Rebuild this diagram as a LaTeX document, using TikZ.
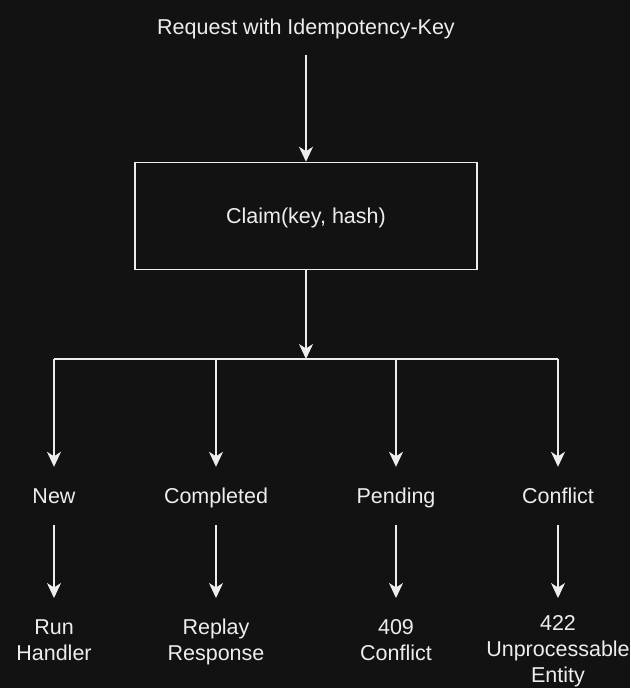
\documentclass[tikz,border=0pt]{standalone}
\usepackage{fontspec}
\setmainfont{Liberation Sans}
\usetikzlibrary{arrows.meta}
\definecolor{bgc}{HTML}{121212}
\definecolor{fgc}{HTML}{EDEDED}
\newcommand{\capstrut}{\rule{0pt}{15.5pt}}
\newcommand{\sm}[1]{\smash{#1}}
\begin{document}
\begin{tikzpicture}[x=1pt,y=-1pt,
  every node/.style={text=fgc,font=\fontsize{21.5}{26}\selectfont,inner sep=0pt,align=center},
  one/.style={text height=15.5pt,text depth=0pt},
  lbl/.style={one,minimum height=58pt},
  res/.style={anchor=north},
  box/.style={one,draw=fgc,line width=1.5pt,minimum width=342pt,minimum height=107pt},
  arr/.style={draw=fgc,line width=1.5pt,-{Stealth[length=15pt,width=14pt,inset=4.5pt]}},
  ln/.style={draw=fgc,line width=1.5pt}]
\fill[bgc] (0,0) rectangle (630,688);
\useasboundingbox (0,0) rectangle (630,688);
\node[one,minimum height=56pt] (title) at (306,27) {Request with Idempotency-Key};
\node[box] (claim) at (306,216) {Claim(key, hash)};
\coordinate (j) at (306,359);
\coordinate (jl) at (54,359);
\coordinate (jr) at (558,359);
\node[lbl] (new) at (54,496) {New};
\node[lbl] (comp) at (216,496) {Completed};
\node[lbl] (pend) at (396,496) {Pending};
\node[lbl] (conf) at (558,496) {Conflict};
\node[res,minimum height=84pt] (run) at (54,598) {\capstrut\sm{Run}\\\sm{Handler}};
\node[res,minimum height=84pt] (rep) at (216,598) {\capstrut\sm{Replay}\\\sm{Response}};
\node[res,minimum height=84pt] (c409) at (396,598) {\capstrut\sm{409}\\\sm{Conflict}};
\node[res,minimum height=102pt] (c422) at (558,598) {\capstrut\sm{422}\\\sm{Unprocessable}\\\sm{Entity}};
\draw[arr] (title.south) -- (claim.north);
\draw[arr] (claim.south) -- (j);
\draw[ln] (jl) -- (jr);
\foreach \n in {new,comp,pend,conf}{
  \draw[arr] (\n.north|-jl) -- (\n.north);
}
\draw[arr] (new.south) -- (run.north);
\draw[arr] (comp.south) -- (rep.north);
\draw[arr] (pend.south) -- (c409.north);
\draw[arr] (conf.south) -- (c422.north);
\end{tikzpicture}
\end{document}
